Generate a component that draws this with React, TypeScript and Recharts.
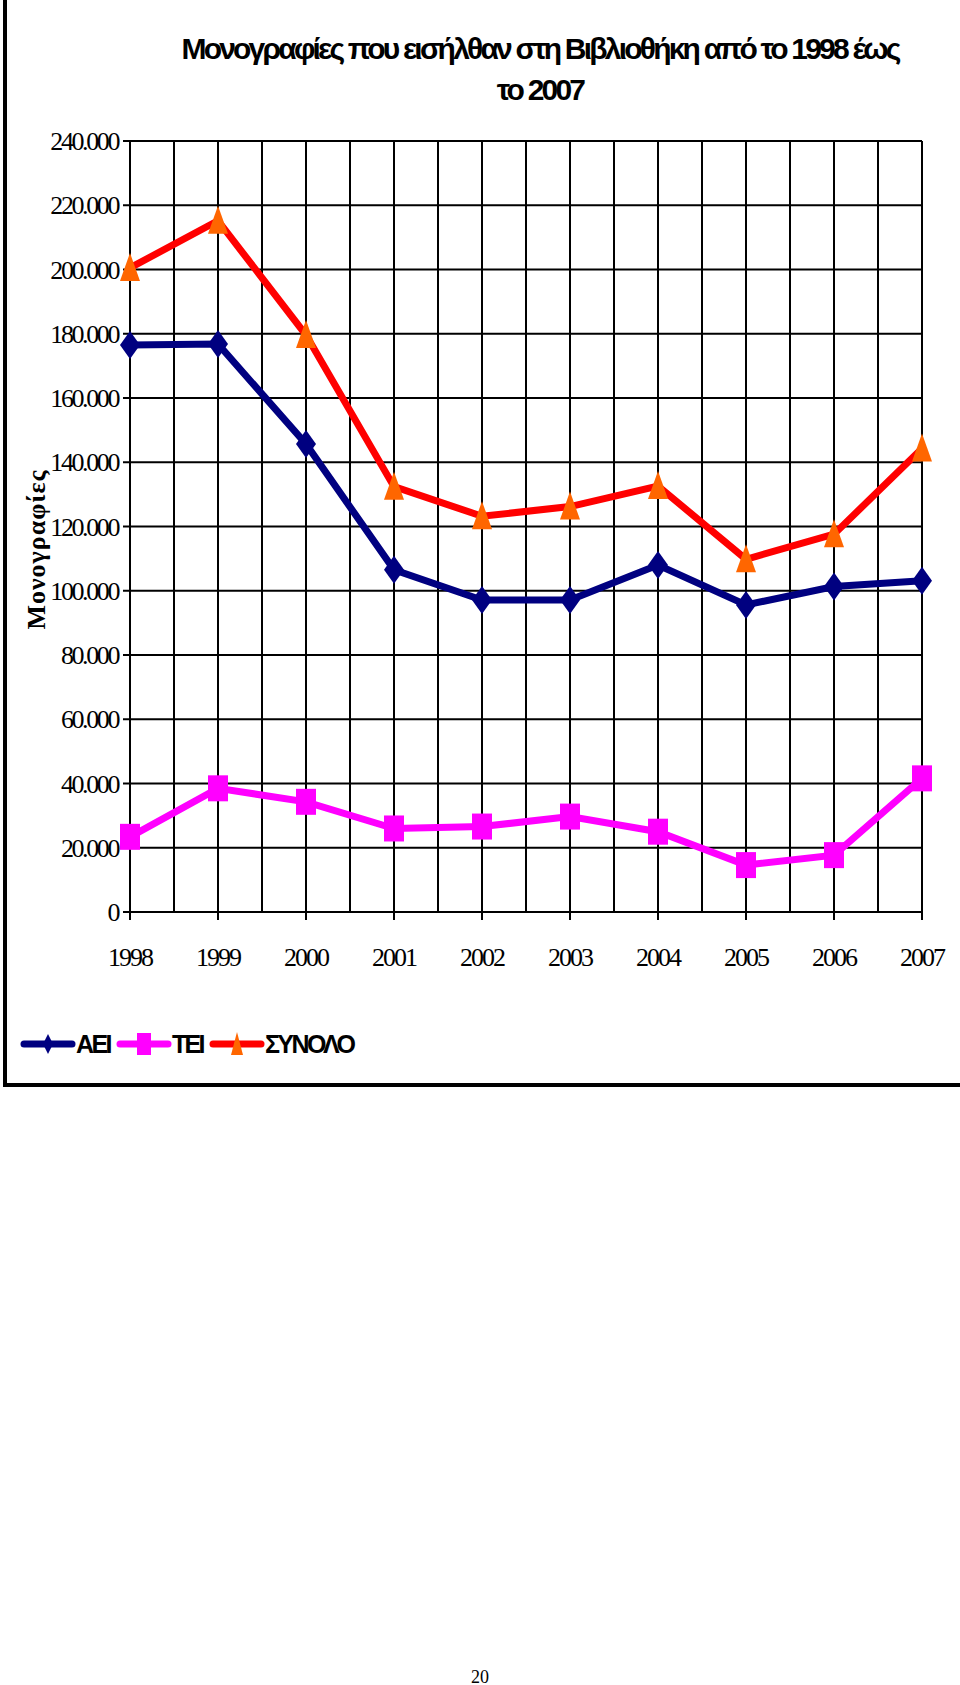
import {
  LineChart,
  Line,
  XAxis,
  YAxis,
  CartesianGrid,
  Legend,
  Label,
} from "recharts";

const years = [1998, 1999, 2000, 2001, 2002, 2003, 2004, 2005, 2006, 2007];
const aei = [176500, 176800, 145700, 106500, 97100, 97100, 108000, 95600, 101300, 103100];
const tei = [23400, 38500, 34300, 26000, 26600, 29700, 25000, 14600, 17700, 41600];
const synolo = [200500, 215200, 179600, 132400, 123200, 126200, 132600, 109800, 117600, 144300];
const yTicks = [0, 20000, 40000, 60000, 80000, 100000, 120000, 140000, 160000, 180000, 200000, 220000, 240000];

// vertical grid lines every half year
const gridTicks = years.flatMap((y) => (y < 2007 ? [y, y + 0.5] : [y]));

const data = years.map((year, i) => ({
  year,
  aei: aei[i],
  tei: tei[i],
  synolo: synolo[i],
}));

const NAVY = "#000080";
const MAGENTA = "#FF00FF";
const RED = "#FF0000";
const ORANGE = "#FF6600";

const fmt = (v: number) =>
  v === 0 ? "0" : String(v).replace(/\B(?=(\d{3})+(?!\d))/g, ".");

const Diamond = (p: any) => {
  const { cx, cy } = p;
  if (cx == null || cy == null) return null;
  return (
    <path
      key={p.index}
      d={`M${cx},${cy - 14} L${cx + 10},${cy} L${cx},${cy + 14} L${cx - 10},${cy} Z`}
      fill={NAVY}
    />
  );
};

const Square = (p: any) => {
  const { cx, cy } = p;
  if (cx == null || cy == null) return null;
  return <rect key={p.index} x={cx - 10} y={cy - 13} width={20} height={26} fill={MAGENTA} />;
};

const Triangle = (p: any) => {
  const { cx, cy } = p;
  if (cx == null || cy == null) return null;
  return (
    <path
      key={p.index}
      d={`M${cx},${cy - 15} L${cx + 10},${cy + 13} L${cx - 10},${cy + 13} Z`}
      fill={ORANGE}
    />
  );
};

const legendItems = [
  { name: "ΑΕΙ", color: NAVY, marker: "diamond" },
  { name: "ΤΕΙ", color: MAGENTA, marker: "square" },
  { name: "ΣΥΝΟΛΟ", color: RED, marker: "triangle" },
];

const LegendContent = () => (
  <div style={{ display: "flex", alignItems: "center" }}>
    {legendItems.map((it) => (
      <div key={it.name} style={{ display: "flex", alignItems: "center", marginRight: 6 }}>
        <svg width={56} height={30}>
          <line x1={4} y1={15} x2={52} y2={15} stroke={it.color} strokeWidth={7} strokeLinecap="round" />
          {it.marker === "diamond" && <path d="M28,5 L33,15 L28,25 L23,15 Z" fill={NAVY} />}
          {it.marker === "square" && <rect x={21} y={4} width={14} height={22} fill={MAGENTA} />}
          {it.marker === "triangle" && <path d="M28,3 L34,26 L22,26 Z" fill={ORANGE} />}
        </svg>
        <span
          style={{
            fontFamily: "'Liberation Sans Narrow', 'Arial Narrow', 'Liberation Sans', sans-serif",
            fontWeight: "bold",
            fontSize: 25,
            letterSpacing: -2.6,
            color: "#000",
          }}
        >
          {it.name}
        </span>
      </div>
    ))}
  </div>
);

const YLabel = (props: any) => {
  const vb = props.viewBox || { x: 20, y: 141, width: 110, height: 771 };
  const x = vb.x + 16;
  const y = vb.y + vb.height / 2 + 23;
  return (
    <text
      x={x}
      y={y}
      transform={`rotate(-90 ${x} ${y})`}
      textAnchor="middle"
      dominantBaseline="central"
      fontFamily="'Liberation Serif', 'Times New Roman', serif"
      fontWeight="bold"
      fontSize={26}
      letterSpacing={1}
      fill="#000"
    >
      Μονογραφίες
    </text>
  );
};

export default function App() {
  return (
    <div style={{ position: "absolute", left: 0, top: 0, width: 960, height: 1685, background: "#fff" }}>
      <div
        style={{
          position: "absolute",
          left: 3,
          top: 0,
          width: 954,
          height: 1083,
          borderLeft: "4px solid #000",
          borderBottom: "4px solid #000",
        }}
      />
      <div
        style={{
          position: "absolute",
          left: 140,
          top: 28,
          width: 800,
          textAlign: "center",
          fontFamily: "'Liberation Sans Narrow', 'Arial Narrow', 'Liberation Sans', sans-serif",
          fontWeight: "bold",
          fontSize: 30,
          lineHeight: "41px",
          letterSpacing: -2.8,
          color: "#000",
        }}
      >
        Μονογραφίες που εισήλθαν στη Βιβλιοθήκη από το 1998 έως
        <br />
        το 2007
      </div>
      <div style={{ position: "absolute", left: 0, top: 0 }}>
        <LineChart
          width={960}
          height={1100}
          data={data}
          margin={{ top: 141, right: 38, left: 20, bottom: 68 }}
        >
          <CartesianGrid
            xAxisId="grid"
            stroke="#000"
            strokeWidth={2}
            strokeOpacity={1}
            fill="none"
          />
          <XAxis
            xAxisId="grid"
            dataKey="year"
            type="number"
            domain={[1998, 2007]}
            ticks={gridTicks}
            hide
          />
          <XAxis
            dataKey="year"
            type="number"
            domain={[1998, 2007]}
            ticks={years}
            height={80}
            tickSize={8}
            tickMargin={28}
            axisLine={{ stroke: "#000", strokeWidth: 2 }}
            tickLine={{ stroke: "#000", strokeWidth: 2 }}
            tick={{
              fill: "#000",
              fontSize: 26,
              fontFamily: "'Liberation Serif', 'Times New Roman', serif",
              letterSpacing: -2,
            }}
            interval={0}
          />
          <YAxis
            domain={[0, 240000]}
            ticks={yTicks}
            width={110}
            tickSize={7}
            tickMargin={5}
            tickFormatter={fmt}
            interval={0}
            axisLine={{ stroke: "#000", strokeWidth: 2 }}
            tickLine={{ stroke: "#000", strokeWidth: 2 }}
            tick={{
              fill: "#000",
              fontSize: 26,
              fontFamily: "'Liberation Serif', 'Times New Roman', serif",
              letterSpacing: -2.4,
            }}
          >
            <Label content={YLabel} />
          </YAxis>
          <Legend
            verticalAlign="bottom"
            height={40}
            content={LegendContent}
            wrapperStyle={{ left: 20, top: 1029, width: 500 }}
          />
          <Line
            dataKey="aei"
            name="ΑΕΙ"
            stroke={NAVY}
            strokeWidth={7}
            dot={Diamond}
            activeDot={false}
            isAnimationActive={false}
          />
          <Line
            dataKey="tei"
            name="ΤΕΙ"
            stroke={MAGENTA}
            strokeWidth={7}
            dot={Square}
            activeDot={false}
            isAnimationActive={false}
          />
          <Line
            dataKey="synolo"
            name="ΣΥΝΟΛΟ"
            stroke={RED}
            strokeWidth={7}
            dot={Triangle}
            activeDot={false}
            isAnimationActive={false}
          />
        </LineChart>
      </div>
      <div
        style={{
          position: "absolute",
          left: 440,
          top: 1666,
          width: 80,
          textAlign: "center",
          fontFamily: "'Liberation Serif', 'Times New Roman', serif",
          fontSize: 18,
          lineHeight: "22px",
          color: "#000",
        }}
      >
        20
      </div>
    </div>
  );
}
